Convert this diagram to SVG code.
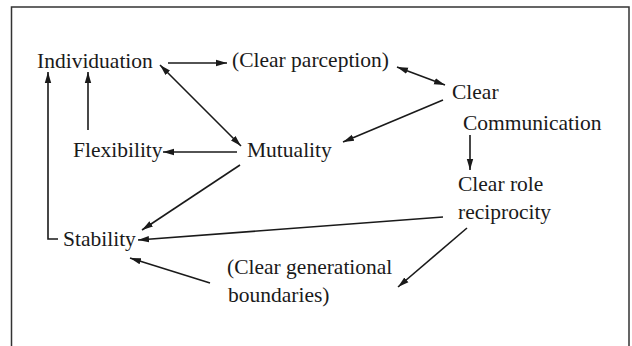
<svg xmlns="http://www.w3.org/2000/svg" width="632" height="346" viewBox="0 0 632 346">
<style>
.t{font-family:"Liberation Serif","Times New Roman",serif;font-size:21.5px;fill:#1a1a1a}
.e{stroke:#1a1a1a;stroke-width:1.6;fill:none}
.f{stroke:#333;stroke-width:1.5;fill:none}
</style>
<defs>
<marker id="ah" markerUnits="userSpaceOnUse" markerWidth="12" markerHeight="8" refX="11" refY="4" orient="auto-start-reverse">
<path d="M0,0.8 L11,4 L0,7.2 z" fill="#1a1a1a"/>
</marker>
</defs>
<rect width="632" height="346" fill="#fff"/>
<path class="f" d="M11.5,346 V7 H629 V346"/>
<g id="n-individuation"><text class="t" x="37" y="68">Individuation</text></g>
<g id="n-perception"><text class="t" x="232" y="67">(Clear parception)</text></g>
<g id="n-communication"><text class="t" x="452" y="99">Clear</text><text class="t" x="463" y="130">Communication</text></g>
<g id="n-flexibility"><text class="t" x="73" y="157">Flexibility</text></g>
<g id="n-mutuality"><text class="t" x="247" y="157">Mutuality</text></g>
<g id="n-role"><text class="t" x="458" y="191">Clear role</text><text class="t" x="458" y="219">reciprocity</text></g>
<g id="n-stability"><text class="t" x="63" y="246">Stability</text></g>
<g id="n-boundaries"><text class="t" x="227" y="274">(Clear generational</text><text class="t" x="228" y="302">boundaries)</text></g>
<g id="connectors">
<path class="e" d="M168,63 L227,63" marker-end="url(#ah)"/>
<path class="e" d="M397,67 L445,85" marker-start="url(#ah)" marker-end="url(#ah)"/>
<path class="e" d="M443,100 L343,142" marker-end="url(#ah)"/>
<path class="e" d="M160,65 L241,146" marker-start="url(#ah)" marker-end="url(#ah)"/>
<path class="e" d="M237,152 L163,152" marker-end="url(#ah)"/>
<path class="e" d="M88,130 L88,72" marker-end="url(#ah)"/>
<path class="e" d="M58,239 L48,239 L48,72" marker-end="url(#ah)"/>
<path class="e" d="M240,165 L142,230" marker-end="url(#ah)"/>
<path class="e" d="M470,135 L470,170" marker-end="url(#ah)"/>
<path class="e" d="M443,217 L138,240" marker-end="url(#ah)"/>
<path class="e" d="M467,228 L398,287" marker-end="url(#ah)"/>
<path class="e" d="M210,283 L130,258" marker-end="url(#ah)"/>
</g>
</svg>
